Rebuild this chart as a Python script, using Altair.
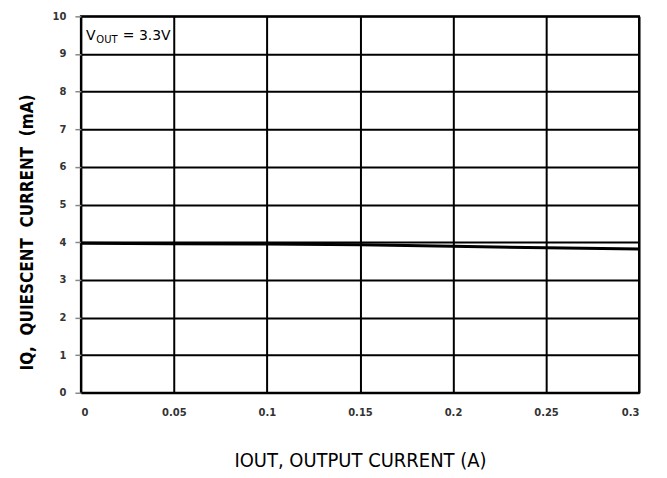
import altair as alt
import pandas as pd

iout = [0, 0.05, 0.1, 0.15, 0.2, 0.25, 0.3]
iq = [3.97, 3.96, 3.95, 3.93, 3.89, 3.85, 3.82]

x_ticks = [0, 0.05, 0.1, 0.15, 0.2, 0.25, 0.3]
y_ticks = list(range(0, 11))

df = pd.DataFrame({"x": iout, "y": iq})

xs = alt.Scale(domain=[0, 0.3], nice=False)
ys = alt.Scale(domain=[0, 10], nice=False)

x_axis = alt.Axis(
    title="IOUT, OUTPUT CURRENT (A)", values=x_ticks,
    labelExpr="datum.value == 0 ? '0' : format(datum.value, '.2~f')",
    grid=True, gridColor="black", gridWidth=2, ticks=False, domain=False,
    labelPadding=15, labelFont="DejaVu Sans", labelFontWeight="bold", labelFontSize=10,
    labelColor="#333333", labelOverlap=False,
    titleFont="DejaVu Sans Condensed", titleFontWeight="normal",
    titleFontSize=20, titleColor="black", titlePadding=33)
y_axis = alt.Axis(
    title="IQ,\u00a0 QUIESCENT\u00a0 CURRENT\u00a0 (mA)", values=y_ticks,
    grid=True, gridColor="black", gridWidth=2, ticks=True, tickColor="#888888",
    tickSize=6, tickWidth=1.5, domain=False, labelOverlap=False,
    labelPadding=9, labelFont="DejaVu Sans", labelFontWeight="bold", labelFontSize=10,
    labelColor="#333333", titleFont="DejaVu Sans Condensed", titleFontWeight="bold",
    titleFontSize=17, titleColor="black", titleAngle=270, titleAlign="center",
    titleBaseline="bottom", titleX=-44, titleY=216)

x_enc = alt.X("x:Q", scale=xs, axis=x_axis)
y_enc = alt.Y("y:Q", scale=ys, axis=y_axis)

line = alt.Chart(df).mark_line(color="black", strokeWidth=3).encode(x=x_enc, y=y_enc)

def ann(x, y, t, size):
    return alt.Chart(pd.DataFrame({"x": [x], "y": [y], "t": [t]})).mark_text(
        align="left", baseline="middle", fontSize=size, font="DejaVu Sans", color="black"
    ).encode(x=x_enc, y=y_enc, text="t:N")

chart = alt.layer(
    line,
    ann(0.0027, 9.47, "V", 14),
    ann(0.0083, 9.38, "OUT", 10),
    ann(0.0225, 9.47, "= 3.3V", 14),
).properties(
    width=559, height=377,
    background="white",
    autosize=alt.AutoSizeParams(type="none"),
    padding={"left": 73, "top": 8, "right": 20, "bottom": 80},
).configure_view(stroke="black", strokeWidth=2)

chart.save("out.html", embed_options={"renderer": "svg", "actions": False})
